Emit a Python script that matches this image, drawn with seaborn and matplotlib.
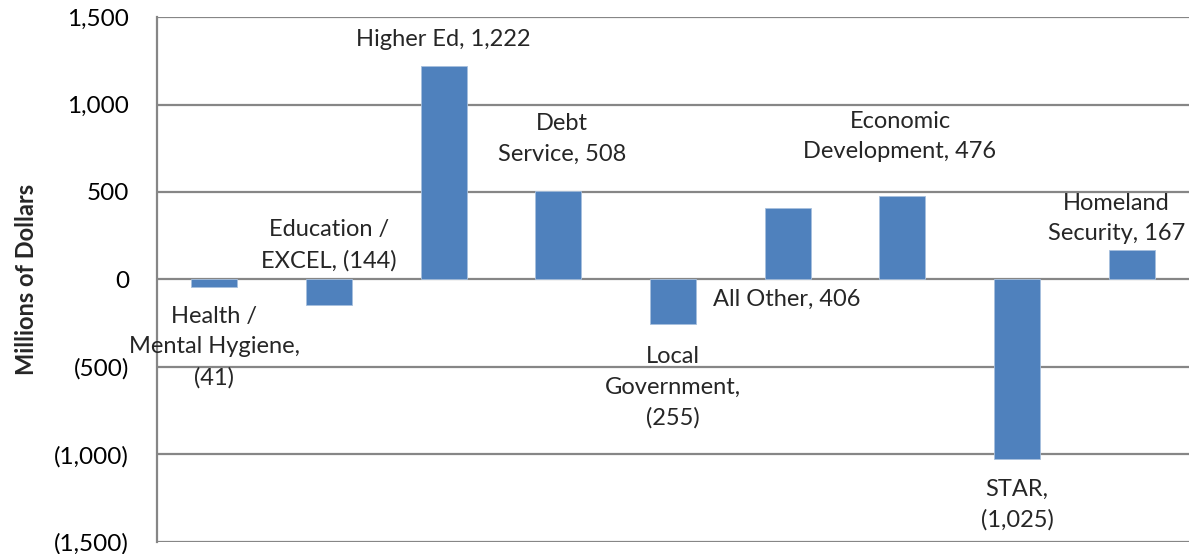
import matplotlib
matplotlib.use("Agg")
import matplotlib.pyplot as plt
import seaborn as sns
import pandas as pd
from matplotlib.ticker import FuncFormatter

# Change by budget area, millions of dollars
areas = ["Health /\nMental Hygiene", "Education /\nEXCEL", "Higher Ed", "Debt\nService",
         "Local\nGovernment", "All Other", "Economic\nDevelopment", "STAR", "Homeland\nSecurity"]
values = [-41, -144, 1222, 508, -255, 406, 476, -1025, 167]

# Label anchor points (category position, value-axis position) for each data label
label_x = [0.0, 1.0, 2.0, 3.03, 4.0, 4.99, 5.98, 7.0, 7.87]
label_y = [-388, 197, 1369, 804, -616, -114, 816, -1286, 348]
label_sep = [",\n", ", ", ", ", ", ", ",\n", ", ", ", ", ",\n", ", "]

yticks = [-1500, -1000, -500, 0, 500, 1000, 1500]


def money(v):
    s = f"{abs(v):,.0f}"
    return f"({s})" if v < 0 else s


df = pd.DataFrame({"area": areas, "value": values})

sns.set_style("white")
plt.rcParams["font.family"] = ["Lato", "DejaVu Sans"]

fig = plt.figure(figsize=(11.93, 5.54), dpi=100)
ax = fig.add_axes([0.1316, 0.0217, 0.8650, 0.9476])

sns.barplot(data=df, x="area", y="value", color="#4F81BD", saturation=1,
            width=0.4, edgecolor="#A7C0DE", linewidth=0.6, ax=ax, zorder=3)

ax.set_ylim(-1500, 1500)
ax.set_xlim(-0.5, len(areas) - 0.5)
ax.set_yticks(yticks)
ax.yaxis.set_major_formatter(FuncFormatter(lambda v, p: money(v)))
ax.tick_params(axis="y", labelsize=17.5, length=0, pad=20, colors="black")
ax.set_xticks([])
ax.set_xlabel("")
ax.set_ylabel("Millions of Dollars", fontsize=17, fontweight="bold", labelpad=12)

ax.grid(axis="y", color="#868686", linewidth=1.6, zorder=0)
for side in ["top", "right", "bottom"]:
    ax.spines[side].set_visible(False)
ax.spines["left"].set_color("#868686")
ax.spines["left"].set_linewidth(1.6)

for name, v, x, y, sep in zip(areas, values, label_x, label_y, label_sep):
    ax.text(x, y, f"{name}{sep}{money(v)}", ha="center", va="center",
            fontsize=17, linespacing=1.55, zorder=4)

fig.savefig("out.png", dpi=100)
